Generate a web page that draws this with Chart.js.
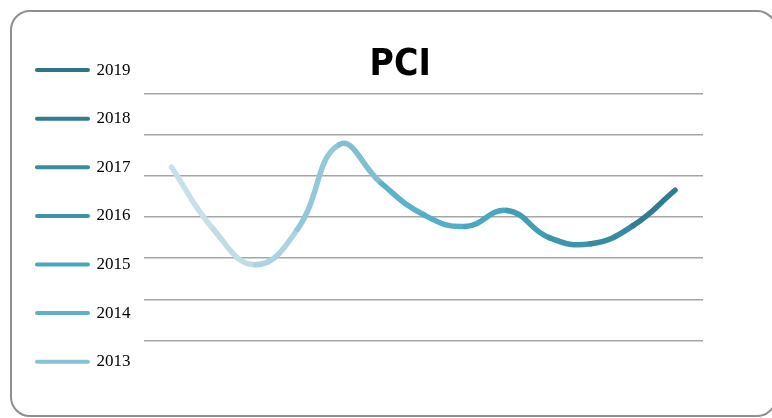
<!DOCTYPE html>
<html>
<head>
<meta charset="utf-8">
<script src="https://cdn.jsdelivr.net/npm/chart.js@4.4.1/dist/chart.umd.min.js"></script>
<style>
    html, body { margin: 0; padding: 0; background: #fff; overflow: hidden; }
    #wrap { position: relative; width: 772px; height: 418px; overflow: hidden; }
    #frame {
        position: absolute; left: 10px; top: 10px; width: 767px; height: 407px;
        border: 2px solid #8f8f8f; border-radius: 20px; box-sizing: border-box;
    }
    #pciChart { position: absolute; left: 0; top: 0; }
</style>
</head>
<body>
<div id="wrap">
    <div id="frame"></div>
    <canvas id="pciChart" width="795" height="418"></canvas>
</div>
<script>
// Data (half-year readings, 2013 H1 .. 2019 H1)
const periods = ['2013-1', '2013-2', '2014-1', '2014-2', '2015-1', '2015-2', '2016-1',
                 '2016-2', '2017-1', '2017-2', '2018-1', '2018-2', '2019-1'];
const pciValues = [42.1, 27.0, 18.4, 27.0, 47.6, 38.2, 30.6, 27.7, 31.6, 25.0, 23.5, 27.9, 36.5];
const legendYears = ['2019', '2018', '2017', '2016', '2015', '2014', '2013'];

// colours
const legendColors = ['#2f7487', '#337d90', '#3a8c9f', '#3d95ab', '#48a6bf', '#5eb0c7', '#87c3d4'];
const segColors = ['#c8e1e8', '#c0dde6', '#acd4e0', '#92c8d8', '#80bfd2', '#5ab3ca',
                   '#52afc7', '#48a8c1', '#409eb6', '#3b96ac', '#368ba0', '#2f7d90'];

const ctx = document.getElementById('pciChart');
const pciChart = new Chart(ctx, {
    type: 'line',
    data: {
        datasets: [{
            label: 'PCI',
            data: pciValues.map((v, i) => ({ x: i, y: v, period: periods[i] })),
            borderWidth: 5.5,
            borderCapStyle: 'round',
            borderColor: segColors[0],
            segment: {
                borderColor: c => segColors[c.p0DataIndex]
            },
            tension: 0.45,
            pointRadius: 0,
            fill: false
        }]
    },
    options: {
        responsive: false,
        animation: false,
        devicePixelRatio: 1,
        layout: { padding: { left: 5.4, top: 30, right: 0, bottom: 0 } },
        scales: {
            x: {
                type: 'linear',
                min: -0.667,
                max: 12.667,
                ticks: { display: false },
                grid: { display: false },
                border: { display: false },
                afterFit: s => { s.height = 77.5; }
            },
            y: {
                min: 0,
                max: 60,
                ticks: { display: false, stepSize: 10 },
                grid: { color: '#a6a6a6', lineWidth: 1.5, drawTicks: false },
                border: { display: false },
                afterFit: s => { s.width = 6.5; }
            },
            yRight: {
                position: 'right',
                ticks: { display: false },
                grid: { display: false },
                border: { display: false },
                afterFit: s => { s.width = 92; }
            }
        },
        plugins: {
            title: {
                display: true,
                text: 'PCI',
                fullSize: true,
                color: '#000',
                font: { family: "'Liberation Sans Narrow', 'DejaVu Sans Condensed', sans-serif", size: 37, weight: 'bold', lineHeight: 1.2 },
                padding: { top: 12.8, bottom: 6.3 }
            },
            legend: {
                position: 'left',
                align: 'start',
                fullSize: true,
                labels: {
                    usePointStyle: true,
                    pointStyleWidth: 51,
                    padding: 31.6,
                    color: '#404040',
                    font: { family: "'Liberation Serif', serif", size: 17 },
                    generateLabels: () => legendYears.map((yr, i) => ({
                        text: yr,
                        strokeStyle: legendColors[i],
                        fillStyle: legendColors[i],
                        lineWidth: 4,
                        lineCap: 'round',
                        pointStyle: 'line',
                        hidden: false,
                        datasetIndex: 0
                    }))
                }
            },
            tooltip: { enabled: false }
        }
    }
});
</script>
</body>
</html>
